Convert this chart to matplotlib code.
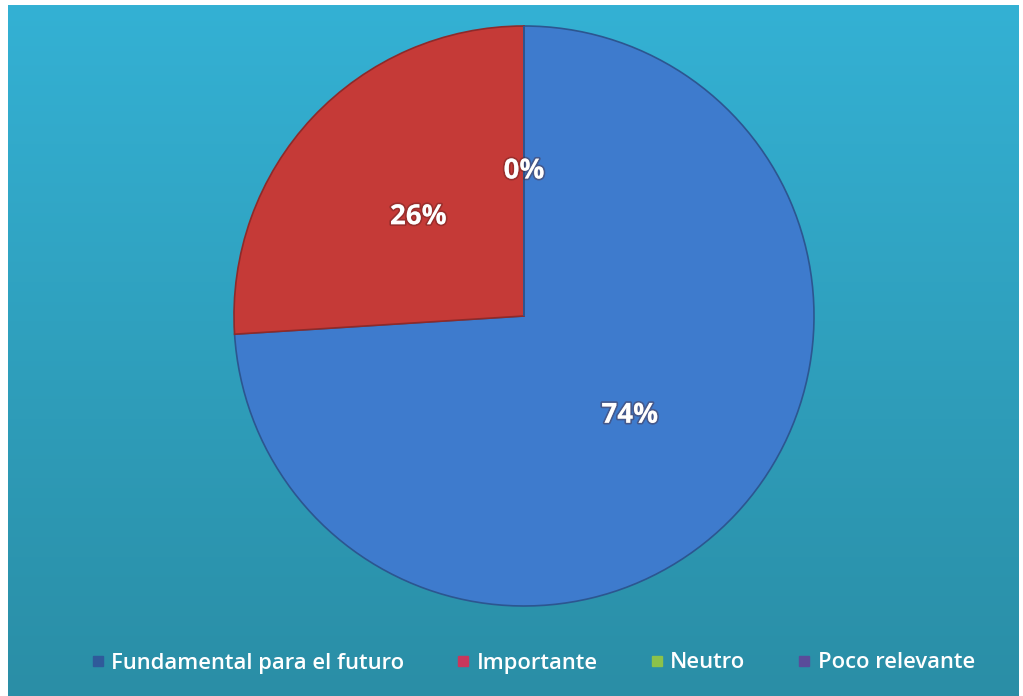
import numpy as np
import matplotlib.pyplot as plt
from matplotlib.colors import LinearSegmentedColormap
import matplotlib.patheffects as pe
from matplotlib.lines import Line2D

labels = ["Fundamental para el futuro", "Importante", "Neutro", "Poco relevante"]
values = [74, 26, 0, 0]
pct_text = ["74%", "26%", "0%", ""]
slice_colors = ["#3e7bcd", "#c53a37", "#8cc24a", "#6a4f9c"]
legend_colors = ["#2f5a9a", "#c9375c", "#8cc24a", "#5a4c9a"]

fig = plt.figure(figsize=(10.23, 6.96), dpi=100)

# background gradient with white margin
bg = fig.add_axes([8 / 1023, 0, (1019 - 8) / 1023, (696 - 5) / 696])
cmap = LinearSegmentedColormap.from_list("bg", ["#34b1d4", "#2a8ea6"])
grad = np.linspace(0, 1, 256).reshape(-1, 1)
bg.imshow(grad, cmap=cmap, aspect="auto", extent=[0, 1, 0, 1], origin="upper")
bg.set_axis_off()

# pie
ax = fig.add_axes([234 / 1023, 90 / 696, 580 / 1023, 580 / 696])
wedges, _ = ax.pie(values, colors=slice_colors, startangle=90, counterclock=False,
                   radius=1.0, wedgeprops=dict(edgecolor="#2c5690", linewidth=1.2))
wedges[1].set_edgecolor("#8e2a2a")

# percentage labels placed at half radius along slice mid angle
total = sum(values)
ang = 90.0
for v, t in zip(values, pct_text):
    span = 360.0 * v / total
    mid = np.deg2rad(ang - span / 2)
    ang -= span
    if not t:
        continue
    ax.text(0.5 * np.cos(mid), 0.5 * np.sin(mid), t, ha="center", va="center",
            color="white", fontsize=20, fontweight="bold", family="Open Sans",
            path_effects=[pe.withStroke(linewidth=2.5, foreground=(0.3, 0.1, 0.1, 0.35))])
ax.set_xlim(-1, 1)
ax.set_ylim(-1, 1)
ax.set_aspect("equal")

handles = [Line2D([], [], marker="s", linestyle="none", markersize=7,
                  markerfacecolor=c, markeredgecolor=c) for c in legend_colors]
leg = fig.legend(handles, labels, loc="center", bbox_to_anchor=(533 / 1023, 1 - 663 / 696),
                 ncol=4, frameon=False, handlelength=0.6, handletextpad=0.3,
                 columnspacing=2.4, prop=dict(family="Open Sans", size=15.8, weight="semibold"))
for t in leg.get_texts():
    t.set_color("white")

fig.savefig("out.png", dpi=100)
